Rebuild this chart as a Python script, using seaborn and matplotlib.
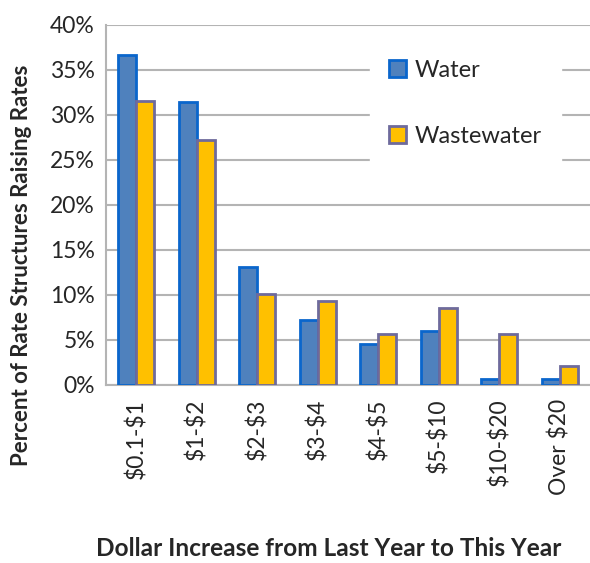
import matplotlib
matplotlib.use("Agg")
import matplotlib.pyplot as plt
import seaborn as sns
import pandas as pd
from matplotlib.ticker import PercentFormatter
from matplotlib.patches import Patch

categories = ["$0.1-$1", "$1-$2", "$2-$3", "$3-$4", "$4-$5", "$5-$10", "$10-$20", "Over $20"]
water = [36.7, 31.4, 13.1, 7.2, 4.6, 6.0, 0.7, 0.7]
wastewater = [31.6, 27.2, 10.1, 9.3, 5.7, 8.6, 5.7, 2.1]
series = ["Water", "Wastewater"]
yticks = [0, 5, 10, 15, 20, 25, 30, 35, 40]

df = pd.DataFrame({
    "category": categories * 2,
    "value": water + wastewater,
    "series": ["Water"] * len(categories) + ["Wastewater"] * len(categories),
})

sns.set_style("white")
plt.rcParams['font.family'] = ['Lato', 'DejaVu Sans']

fill = {"Water": "#4F81BD", "Wastewater": "#FFC000"}
edge = {"Water": "#0A66CC", "Wastewater": "#6E6A9C"}
grid_c = "#B4B4B4"

fig = plt.figure(figsize=(5.90, 5.63), dpi=100)
ax = fig.add_axes([0.1797, 0.3162, 0.8203, 0.6394])

sns.barplot(data=df, x="category", y="value", hue="series", order=categories,
            hue_order=series, palette=fill, width=0.6, gap=0, ax=ax,
            legend=False, saturation=1, zorder=3)

n = len(categories)
for i, p in enumerate(ax.patches[:2 * n]):
    s = series[i // n]
    p.set_edgecolor(edge[s])
    p.set_linewidth(2.0)

ax.set_ylim(0, 40)
ax.set_xlim(-0.5, 7.5)
ax.set_yticks(yticks)
ax.yaxis.set_major_formatter(PercentFormatter(decimals=0))
ax.set_xticks([i for i in range(n)])
ax.set_xticklabels(categories, rotation=90, fontsize=16.5)
for t in ax.get_xticklabels():
    t.set_parse_math(False)
ax.tick_params(axis='x', length=0, pad=10)
ax.tick_params(axis='y', labelsize=16.5, length=6, width=1.2, color=grid_c, pad=2, direction='out')
ax.set_xticks([i + 0.5 for i in range(-1, n)], minor=True)
ax.tick_params(axis='x', which='minor', length=6, width=1.2, color=grid_c, direction='out')

ax.yaxis.grid(True, color=grid_c, linewidth=1.5, zorder=0)
ax.set_axisbelow(True)
for side in ["top", "right"]:
    ax.spines[side].set_visible(False)
for side in ["left", "bottom"]:
    ax.spines[side].set_color(grid_c)
    ax.spines[side].set_linewidth(1.5)

ax.set_xlabel("")
ax.set_ylabel("")
fig.text(0.036, 0.529, "Percent of Rate Structures Raising Rates", rotation=90,
         fontsize=16, fontweight='bold', ha='center', va='center')
fig.text(0.557, 0.006, "Dollar Increase from Last Year to This Year",
         fontsize=17.6, fontweight='bold', ha='center', va='bottom')

handles = [Patch(facecolor=fill[s], edgecolor=edge[s], linewidth=2.0, label=s) for s in series]
leg = ax.legend(handles=handles, loc='upper left', bbox_to_anchor=(0.545, 0.955),
                fontsize=17, frameon=True, handlelength=0.75, handleheight=0.75,
                handletextpad=0.35, labelspacing=1.9, borderpad=0.8, borderaxespad=0)
leg.get_frame().set_edgecolor('white')
leg.get_frame().set_facecolor('white')
leg.get_frame().set_alpha(1)
leg.set_zorder(5)

fig.savefig("out.png", dpi=100, facecolor='white')
